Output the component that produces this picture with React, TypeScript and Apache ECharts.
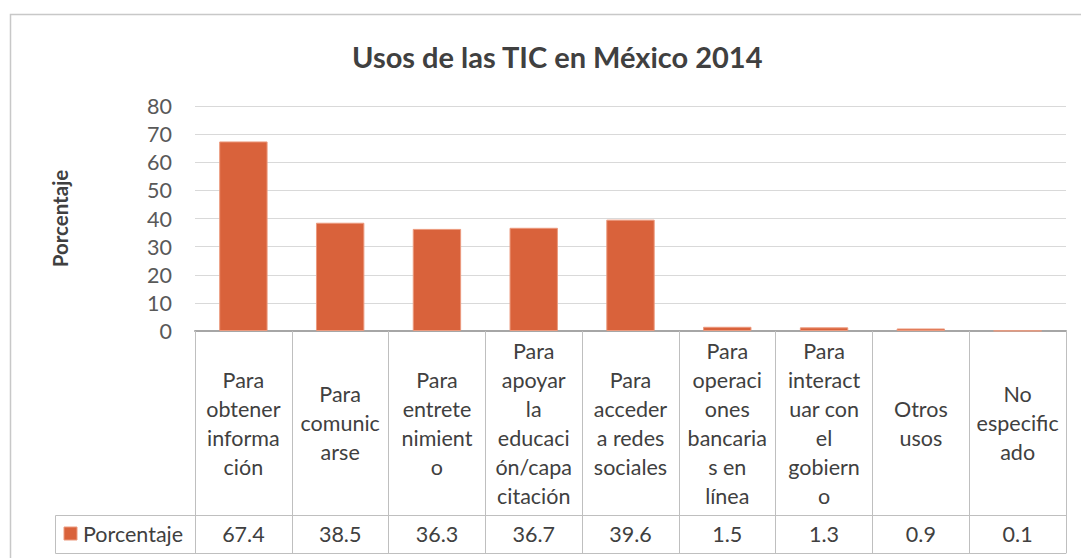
import React, { useEffect, useRef } from "react";
import * as echarts from "echarts";

const title = "Usos de las TIC en México 2014";
const seriesName = "Porcentaje";
const yAxisName = "Porcentaje";
const categoryLabels = [
  "Para\nobtener\ninforma\nción",
  "Para\ncomunic\narse",
  "Para\nentrete\nnimient\no",
  "Para\napoyar\nla\neducaci\nón/capa\ncitación",
  "Para\nacceder\na redes\nsociales",
  "Para\noperaci\nones\nbancaria\ns en\nlínea",
  "Para\ninteract\nuar con\nel\ngobiern\no",
  "Otros\nusos",
  "No\nespecific\nado",
];
const values = [67.4, 38.5, 36.3, 36.7, 39.6, 1.5, 1.3, 0.9, 0.1];
const yTicks = { min: 0, max: 80, interval: 10 };

const FONT = "Lato, 'Open Sans', sans-serif";
const BAR = "#D9623B";
const BAR_BORDER = "#EC9A7E";
const TABLE_LINE = "#BFBFBF";
const TEXT = "#404040";
const FS = 21.5;

const GRID_LEFT = 195;
const GRID_TOP = 106;
const GRID_W = 871;
const GRID_H = 225;
const AXIS_Y = GRID_TOP + GRID_H; // 331
const ROW2_Y = 515;
const TABLE_BOTTOM = 553;

export default function App() {
  const ref = useRef<HTMLDivElement>(null);
  useEffect(() => {
    document.body.style.margin = "0";
    const chart = echarts.init(ref.current!, null, { renderer: "svg" });
    chart.setOption({
      animation: false,
      backgroundColor: "#ffffff",
      textStyle: { fontFamily: FONT },
      title: {
        text: title,
        left: 347,
        top: 37,
        textStyle: { fontFamily: FONT, fontSize: 29, fontWeight: "bold", color: TEXT },
      },
      grid: { left: GRID_LEFT, top: GRID_TOP, width: GRID_W, height: GRID_H },
      yAxis: {
        type: "value",
        min: yTicks.min,
        max: yTicks.max,
        interval: yTicks.interval,
        name: yAxisName,
        nameLocation: "middle",
        nameGap: 125,
        nameTextStyle: { fontFamily: FONT, fontSize: 20.5, fontWeight: "bold", color: TEXT },
        axisLine: { show: false },
        axisTick: { show: false },
        axisLabel: { fontFamily: FONT, fontSize: FS, color: "#595959", margin: 23 },
        splitLine: { lineStyle: { color: "#D9D9D9", width: 1 } },
      },
      xAxis: [
        {
          type: "category",
          data: categoryLabels,
          position: "bottom",
          axisLine: { lineStyle: { color: "#A6A6A6", width: 2 } },
          axisTick: {
            show: true,
            interval: 0,
            length: TABLE_BOTTOM - AXIS_Y,
            lineStyle: { color: TABLE_LINE, width: 1 },
          },
          axisLabel: {
            interval: 0,
            fontFamily: FONT,
            fontSize: FS,
            color: TEXT,
            lineHeight: 29,
            verticalAlign: "middle",
            margin: (ROW2_Y - AXIS_Y) / 2,
          },
        },
        {
          type: "category",
          data: categoryLabels,
          position: "bottom",
          offset: ROW2_Y - AXIS_Y,
          axisLine: { lineStyle: { color: TABLE_LINE, width: 1 } },
          axisTick: { show: false },
          axisLabel: {
            interval: 0,
            fontFamily: FONT,
            fontSize: FS,
            color: TEXT,
            verticalAlign: "middle",
            margin: (TABLE_BOTTOM - ROW2_Y) / 2,
            formatter: (_v: string, i: number) => values[i].toFixed(1),
          },
        },
        {
          type: "category",
          data: categoryLabels,
          position: "bottom",
          offset: TABLE_BOTTOM - AXIS_Y,
          axisLine: { lineStyle: { color: TABLE_LINE, width: 1 } },
          axisTick: { show: false },
          axisLabel: { show: false },
        },
      ],
      series: [
        {
          name: seriesName,
          type: "bar",
          xAxisIndex: 0,
          data: values,
          barWidth: "50%",
          itemStyle: { color: BAR, borderColor: BAR_BORDER, borderWidth: 1 },
        },
      ],
      graphic: [
        {
          type: "rect",
          shape: { x: 10.5, y: 14.5, width: 1100, height: 600 },
          style: { fill: "none", stroke: "#C8C8C8", lineWidth: 1.5 },
          silent: true,
        },
        {
          type: "polyline",
          shape: {
            points: [
              [GRID_LEFT, ROW2_Y + 0.5],
              [55.5, ROW2_Y + 0.5],
              [55.5, TABLE_BOTTOM + 0.5],
              [GRID_LEFT, TABLE_BOTTOM + 0.5],
            ],
          },
          style: { fill: "none", stroke: TABLE_LINE, lineWidth: 1 },
          silent: true,
        },
        {
          type: "rect",
          shape: { x: 64, y: 527, width: 13, height: 13 },
          style: { fill: BAR, stroke: BAR_BORDER, lineWidth: 1 },
          silent: true,
        },
        {
          type: "text",
          x: 83,
          y: 534,
          style: {
            text: seriesName,
            fontFamily: FONT,
            fontSize: FS,
            fill: TEXT,
            verticalAlign: "middle",
            align: "left",
          },
          silent: true,
        },
      ],
    });
    return () => chart.dispose();
  }, []);
  return <div ref={ref} style={{ width: 1081, height: 558 }} />;
}
